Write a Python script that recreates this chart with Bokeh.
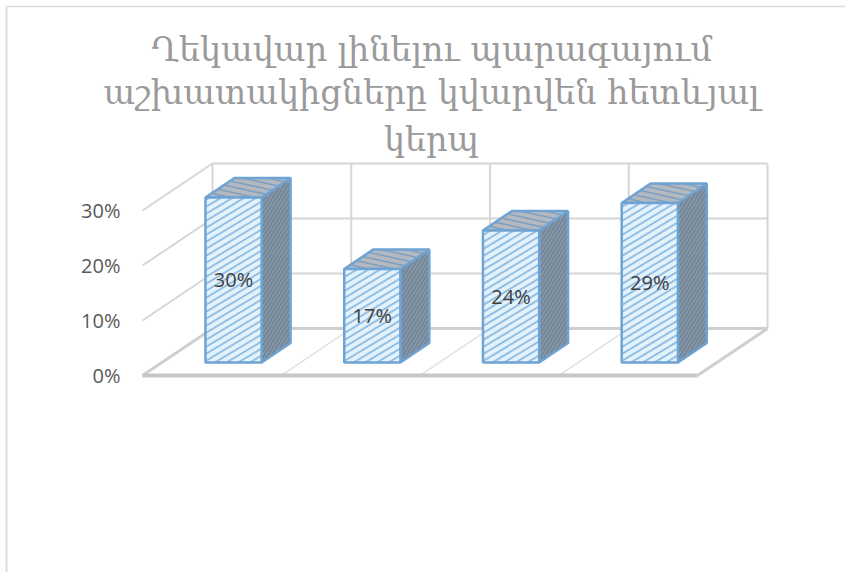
from bokeh.core.properties import value
from bokeh.embed import file_html
from bokeh.models import ColumnDataSource, Range1d
from bokeh.plotting import figure
from bokeh.resources import INLINE

# Share of employees per answer, in percent.
values = [30, 17, 24, 29]
value_labels = ["30%", "17%", "24%", "29%"]
axis_values = [0, 10, 20, 30]
axis_labels = ["0%", "10%", "20%", "30%"]
title_lines = [
    "Ղեկավար լինելու պարագայում",
    "աշխատակիցները կվարվեն հետևյալ",
    "կերպ",
]

WIDTH, HEIGHT = 845, 572
SLOT_PX, PCT_PX = 138.75, 5.5
ORIGIN_X_PX, ORIGIN_Y_PX = 142.0, 375.0

# Oblique projection: depth 0 is the front of the floor, depth 1 the back wall.
DEPTH_X = 70 / SLOT_PX
DEPTH_Y = 47 / PCT_PX
BAR_LEFT, BAR_RIGHT = 0.314, 0.719
BAR_FRONT, BAR_BACK = 0.277, 0.69
TO_DATA_SLOPE = SLOT_PX / PCT_PX


def px_x(px):
    return (px - ORIGIN_X_PX) / SLOT_PX


def px_y(px):
    return (ORIGIN_Y_PX - px) / PCT_PX


def project(slot, level, depth):
    return slot + depth * DEPTH_X, level + depth * DEPTH_Y


def crossings(poly, slope, offset):
    """Points where the line y = slope * x + offset crosses a convex polygon."""
    hits = []
    for (x0, y0), (x1, y1) in zip(poly, poly[1:] + poly[:1]):
        d0 = y0 - slope * x0 - offset
        d1 = y1 - slope * x1 - offset
        if d0 * d1 < 0:
            t = d0 / (d0 - d1)
            hits.append((x0 + t * (x1 - x0), y0 + t * (y1 - y0)))
    return hits[:2] if len(hits) >= 2 else None


def stripes(poly, slope, spacing):
    """Parallel stripes of the given data slope filling a convex polygon."""
    offsets = [y - slope * x for x, y in poly]
    xs, ys = [], []
    c = min(offsets)
    while c < max(offsets):
        seg = crossings(poly, slope, c)
        if seg:
            xs.append([seg[0][0], seg[1][0]])
            ys.append([seg[0][1], seg[1][1]])
        c += spacing
    return xs, ys


p = figure(
    width=WIDTH,
    height=HEIGHT,
    output_backend="svg",
    toolbar_location=None,
    min_border=0,
    outline_line_color=None,
    background_fill_color="white",
    border_fill_color="white",
    x_range=Range1d(px_x(0), px_x(WIDTH)),
    y_range=Range1d(px_y(HEIGHT), px_y(0)),
)
p.axis.visible = False
p.grid.visible = False

WALL = "#d6d6d6"
n = len(values)
top_level = axis_values[-1]

# Page edge rules along the left and the top.
p.line([px_x(6), px_x(6)], [px_y(HEIGHT), px_y(6)], line_color="#dedede", line_width=2)
p.line([px_x(6), px_x(WIDTH)], [px_y(6), px_y(6)], line_color="#dcdcdc", line_width=1.5)

# Gridlines running along the side wall and across the back wall.
for lv in axis_values[1:]:
    x0, y0 = project(0, lv, 0)
    x1, y1 = project(0, lv, 1)
    x2, y2 = project(n, lv, 1)
    p.line([x0, x1, x2], [y0, y1, y2], line_color=WALL, line_width=2)

# Wall verticals and the category lines across the floor.
for i in range(n + 1):
    bx, by = project(i, 0, 1)
    _, ty = project(i, top_level, 1)
    p.line([bx, bx], [by, ty], line_color=WALL, line_width=2)
    if 0 < i < n:
        fx, fy = project(i, 0, 0)
        p.line([fx, bx], [fy, by], line_color="#dedede", line_width=1.5)

# Floor outline, heaviest along the front edge.
fl, bl, br, fr = project(0, 0, 0), project(0, 0, 1), project(n, 0, 1), project(n, 0, 0)
p.line([bl[0], br[0]], [bl[1], br[1]], line_color="#cfcfcf", line_width=3)
p.line([fl[0], bl[0]], [fl[1], bl[1]], line_color="#cfcfcf", line_width=3)
p.line([fr[0], br[0]], [fr[1], br[1]], line_color="#cfcfcf", line_width=3)
p.line([fl[0], fr[0]], [fl[1], fr[1]], line_color="#c6c6c6", line_width=4)


def face(poly, fill, stripe, width, slope_px, gap_px):
    xs = [pt[0] for pt in poly]
    ys = [pt[1] for pt in poly]
    p.patch(xs, ys, fill_color=fill, line_color=None)
    sx, sy = stripes(poly, slope_px * TO_DATA_SLOPE, gap_px / PCT_PX)
    p.multi_line(sx, sy, line_color=stripe, line_width=width)
    p.patch(xs + xs[:1], ys + ys[:1], fill_alpha=0, line_color="#6ea3d3", line_width=2.5)


# Three hatched faces for each bar.
for i, v in enumerate(values):
    left, right = i + BAR_LEFT, i + BAR_RIGHT
    base_f = project(left, 0, BAR_FRONT)
    base_fr = project(right, 0, BAR_FRONT)
    top_f = project(left, v, BAR_FRONT)
    top_fr = project(right, v, BAR_FRONT)
    base_br = project(right, 0, BAR_BACK)
    top_br = project(right, v, BAR_BACK)
    top_bl = project(left, v, BAR_BACK)

    face([base_fr, base_br, top_br, top_fr], "#8896a4", "#6f8499", 1.3, 1.6, 6)
    face([top_f, top_fr, top_br, top_bl], "#b4b9bf", "#7ea0c2", 1.6, -0.22, 5.5)
    face([base_f, base_fr, top_fr, top_f], "#e4f2fc", "#94c0e6", 2.0, 0.6, 7)

# Value labels on the front faces.
label_x = [i + (BAR_LEFT + BAR_RIGHT) / 2 + BAR_FRONT * DEPTH_X for i in range(n)]
label_y = [v / 2 + BAR_FRONT * DEPTH_Y for v in values]
src = ColumnDataSource(dict(x=label_x, y=label_y, t=value_labels))
p.text("x", "y", text="t", source=src, text_align="center", text_baseline="middle",
       text_color="#404040", text_font=value("Open Sans"), text_font_size="20px")

# Percentage axis labels left of the side wall.
tick_src = ColumnDataSource(dict(x=[px_x(120)] * len(axis_values), y=axis_values, t=axis_labels))
p.text("x", "y", text="t", source=tick_src, text_align="right", text_baseline="middle",
       text_color="#595959", text_font=value("Open Sans"), text_font_size="20px")

# Three-line chart title.
title_src = ColumnDataSource(dict(
    x=[px_x(431)] * 3,
    y=[px_y(py) for py in (49, 92, 139)],
    t=title_lines,
))
p.text("x", "y", text="t", source=title_src, text_align="center", text_baseline="middle",
       text_color="#9a9a9a", text_font=value("DejaVu Serif"), text_font_size="33.5px")

open("out.html", "w").write(file_html(p, INLINE))
